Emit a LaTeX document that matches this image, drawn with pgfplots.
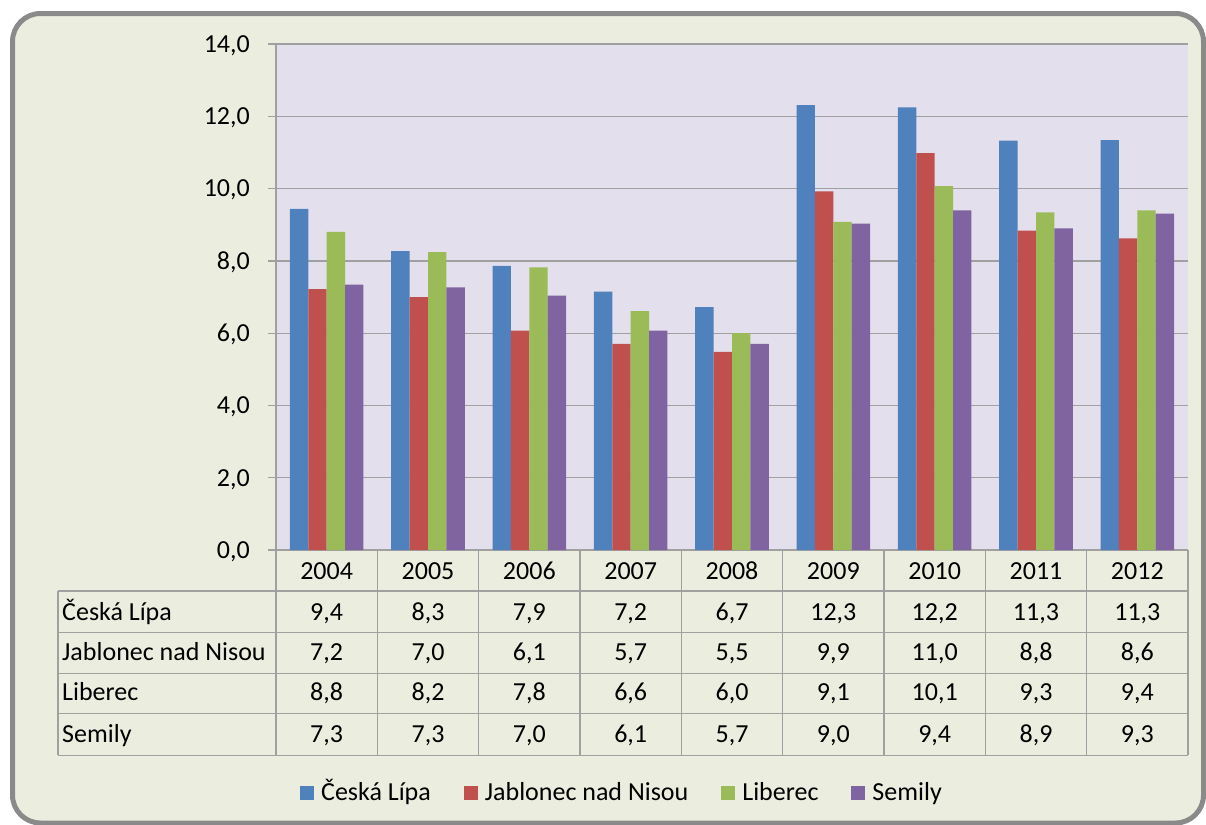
\documentclass[border=0pt]{standalone}
\usepackage{fontspec}
\setmainfont{Carlito}
\usepackage{pgfplots}
\pgfplotsset{compat=1.18}
\definecolor{frameC}{HTML}{8A8A8A}
\definecolor{bgC}{HTML}{EBEEDF}
\definecolor{plotC}{HTML}{E4DFEC}
\definecolor{gridC}{HTML}{A0A0A0}
\definecolor{cBlue}{HTML}{4F81BD}
\definecolor{cRed}{HTML}{C0504D}
\definecolor{cGreen}{HTML}{9BBB59}
\definecolor{cPurple}{HTML}{8064A2}
\pgfplotsset{sq/.style={legend image code/.code={\fill[##1] (0bp,1bp) rectangle (14bp,15bp);}}}
\begin{document}
\fontsize{26bp}{31bp}\selectfont
\begin{tikzpicture}[font=\fontsize{26bp}{31bp}\selectfont]
\begin{scope}[x=1bp,y=-1bp]
\useasboundingbox (0,0) rectangle (1206,825);
\draw[frameC, line width=5bp, fill=bgC, rounded corners=28bp] (12.5,13.5) rectangle (1203.5,823);
\end{scope}
\begin{axis}[
  at={(276bp,-550bp)}, anchor=south west,
  width=912bp, height=506bp, scale only axis,
  xmin=-0.5, xmax=8.5, ymin=0, ymax=14,
  ybar=0pt, bar width=18.4bp,
  axis background/.style={fill=plotC},
  axis x line*=bottom, axis y line*=left,
  axis line style={gridC, line width=1.3bp},
  ytick={0,2,4,6,8,10,12,14},
  yticklabels={{0,0},{2,0},{4,0},{6,0},{8,0},{10,0},{12,0},{14,0}},
  ymajorgrids, grid style={gridC, line width=1.3bp},
  major tick length=8bp, tick align=outside,
  ytick style={gridC, line width=1.3bp},
  xtick style={draw=none},
  xtick={0,1,2,3,4,5,6,7,8},
  xticklabels={2004,2005,2006,2007,2008,2009,2010,2011,2012},
  xticklabel style={anchor=base, inner sep=0pt, yshift=-21bp},
  yticklabel style={anchor=base east, inner sep=0pt, xshift=-18bp, yshift=-8.4bp},
  legend style={at={(0.023,-0.478)}, anchor=west, draw=none, fill=none,
    legend columns=4, nodes={inner sep=0pt}, cells={anchor=base west},
    /tikz/every odd column/.append style={column sep=7bp},
    /tikz/every even column/.append style={column sep=33bp}},
]
\addplot[fill=cBlue, draw=none, sq] coordinates {(0,9.44) (1,8.27) (2,7.86) (3,7.15) (4,6.72) (5,12.31) (6,12.25) (7,11.33) (8,11.34)};
\addplot[fill=cRed, draw=none, sq] coordinates {(0,7.22) (1,7.00) (2,6.07) (3,5.70) (4,5.48) (5,9.92) (6,10.98) (7,8.84) (8,8.62)};
\addplot[fill=cGreen, draw=none, sq] coordinates {(0,8.80) (1,8.24) (2,7.82) (3,6.61) (4,6.00) (5,9.08) (6,10.07) (7,9.34) (8,9.40)};
\addplot[fill=cPurple, draw=none, sq] coordinates {(0,7.34) (1,7.27) (2,7.04) (3,6.07) (4,5.70) (5,9.03) (6,9.40) (7,8.90) (8,9.31)};
\legend{Česká Lípa, Jablonec nad Nisou, Liberec, Semily}
\end{axis}
\begin{scope}[x=1bp,y=-1bp]
\draw[gridC, line width=1.3bp]
  (58,591) -- (1188,591) (58,632.7) -- (1188,632.7) (58,673.3) -- (1188,673.3)
  (58,713.3) -- (1188,713.3) (58,755.3) -- (1188,755.3)
  (58,591) -- (58,755.3);
\foreach \k in {0,...,9} {\draw[gridC, line width=1.3bp] ({276+101.333*\k},550) -- ({276+101.333*\k},755.3);}
\foreach \t/\b in {Česká Lípa/620, Jablonec nad Nisou/660, Liberec/700.7, Semily/742}
  {\node[anchor=base west, inner sep=0pt] at (62,\b) {\t};}
\def\rowvals#1#2{\foreach \v [count=\i from 0] in {#2} {\node[anchor=base, inner sep=0pt] at ({276+101.333*(\i+0.5)},#1) {\v};}}
\rowvals{620}{{9,4},{8,3},{7,9},{7,2},{6,7},{12,3},{12,2},{11,3},{11,3}}
\rowvals{660}{{7,2},{7,0},{6,1},{5,7},{5,5},{9,9},{11,0},{8,8},{8,6}}
\rowvals{700.7}{{8,8},{8,2},{7,8},{6,6},{6,0},{9,1},{10,1},{9,3},{9,4}}
\rowvals{742}{{7,3},{7,3},{7,0},{6,1},{5,7},{9,0},{9,4},{8,9},{9,3}}
\end{scope}
\end{tikzpicture}
\end{document}
